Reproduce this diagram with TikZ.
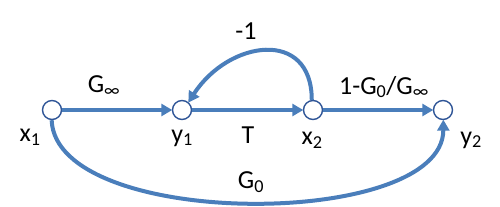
\documentclass[tikz,border=0pt]{standalone}
\usepackage{fontspec}
\setmainfont{Carlito}
\usetikzlibrary{arrows.meta,positioning}
\definecolor{flowblue}{HTML}{4A7EBB}
\definecolor{rimblue}{HTML}{2F5597}

\begin{document}
\begin{tikzpicture}[x=1pt, y=1pt,
    % Define styles
    signode/.style={circle, draw=rimblue, fill=white, line width=1.4pt, minimum size=19pt, inner sep=0pt},
    branch/.style={-{Triangle[length=11pt, width=12pt]}, line width=4pt, flowblue, shorten >=-0.5pt},
    gain/.style={font=\fontsize{26}{28}\selectfont, inner sep=0pt},
    varname/.style={font=\fontsize{26}{28}\selectfont, inner sep=0pt}
]
\useasboundingbox (0,0) rectangle (500,206);

% Signal nodes
\node[signode] (x1) at (52,96) {};
\node[signode] (y1) at (182,96) {};
\node[signode] (x2) at (313,96) {};
\node[signode] (y2) at (443,96) {};

% Node names
\node[varname] (nx1) at (30,69) {x\textsubscript{1}};
\node[varname] (ny1) at (182,68) {y\textsubscript{1}};
\node[varname] (nx2) at (312,66) {x\textsubscript{2}};
\node[varname] (ny2) at (471,66) {y\textsubscript{2}};

% Branches
\draw[branch] (x1) -- (y1);
\draw[branch] (y1) -- (x2);
\draw[branch] (x2) -- (y2);

% Feedback loop
\draw[branch] (x2.97) .. controls +(0,72) and +(40,62) .. (y1.50);

% Direct path
\draw[branch] (x1.268) .. controls (56,-24) and (443,-24) .. (y2.272);

% Gains
\node[gain] (ginf) at (104,120) {G\textsubscript{∞}};
\node[gain] (fb) at (246,175) {-1};
\node[gain] (tg) at (248,71) {T};
\node[gain] (gout) at (384,119) {1-G\textsubscript{0}/G\textsubscript{∞}};
\node[gain] (g0) at (251,24) {G\textsubscript{0}};

\end{tikzpicture}
\end{document}
